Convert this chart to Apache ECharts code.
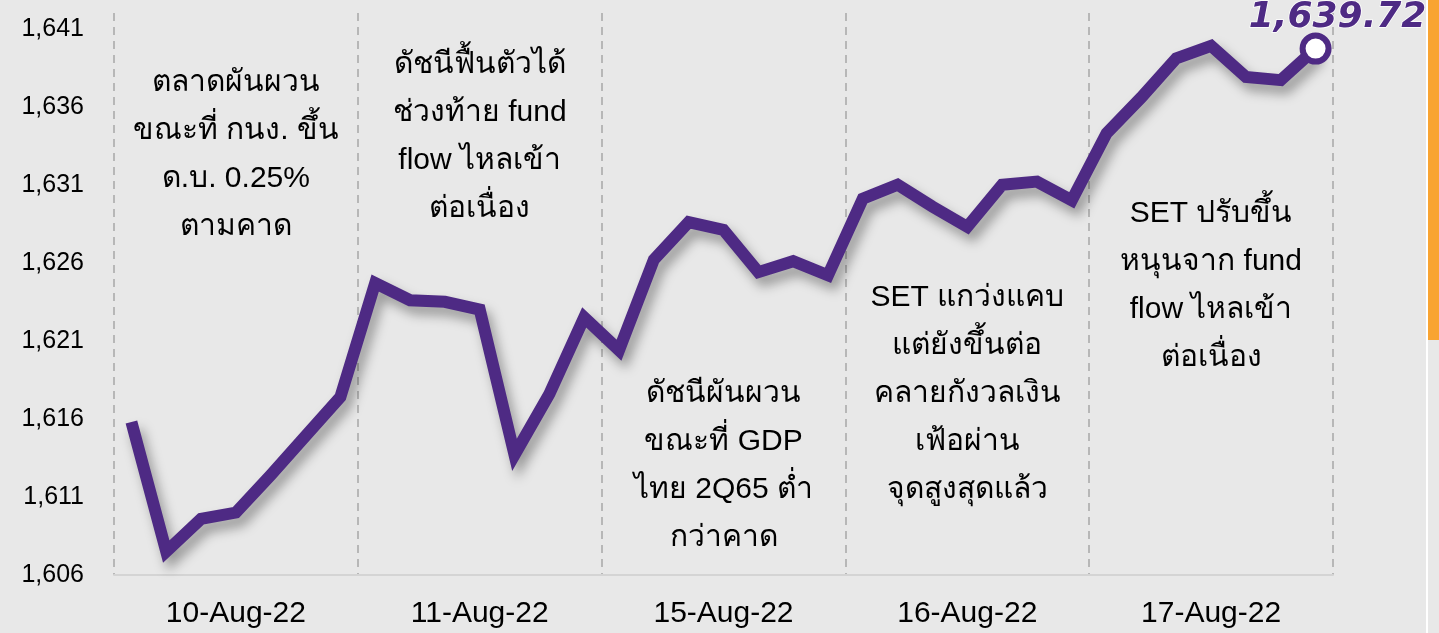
<!DOCTYPE html>
<html>
<head>
<meta charset="utf-8">
<script src="https://cdn.jsdelivr.net/npm/echarts@6/dist/echarts.min.js"></script>
<style>
  html, body { margin: 0; padding: 0; background: #e8e8e8; }
  #chart { width: 1439px; height: 633px; }
</style>
</head>
<body>
<div id="chart"></div>
<script>
  // วันซื้อขาย 5 วัน วันละ 7 จุด
  var days = ['10-Aug-22', '11-Aug-22', '15-Aug-22', '16-Aug-22', '17-Aug-22'];
  var day1 = [1615.8, 1607.5, 1609.6, 1610.0, 1612.4, 1614.9, 1617.4];
  var day2 = [1624.7, 1623.6, 1623.5, 1623.0, 1613.7, 1617.6, 1622.5];
  var day3 = [1620.4, 1626.2, 1628.6, 1628.1, 1625.4, 1626.1, 1625.2];
  var day4 = [1630.1, 1631.0, 1629.6, 1628.3, 1631.0, 1631.2, 1630.0];
  var day5 = [1634.3, 1636.6, 1639.1, 1639.9, 1637.9, 1637.7, 1639.72];

  var notes = [
    ['ตลาดผันผวน', 'ขณะที่ กนง. ขึ้น', 'ด.บ. 0.25%', 'ตามคาด'],
    ['ดัชนีฟื้นตัวได้', 'ช่วงท้าย fund', 'flow ไหลเข้า', 'ต่อเนื่อง'],
    ['ดัชนีผันผวน', 'ขณะที่ GDP', 'ไทย 2Q65 ต่ำ', 'กว่าคาด'],
    ['SET แกว่งแคบ', 'แต่ยังขึ้นต่อ', 'คลายกังวลเงิน', 'เฟ้อผ่าน', 'จุดสูงสุดแล้ว'],
    ['SET ปรับขึ้น', 'หนุนจาก fund', 'flow ไหลเข้า', 'ต่อเนื่อง']
  ];
  // ระดับดัชนีที่ใช้วางกล่องข้อความแต่ละวัน
  var noteLevels = [1632.9, 1634.1, 1613.0, 1617.6, 1624.5];

  var perDay = 7;
  var purple = '#4e2a84';
  var font = '"Liberation Sans", Arial, sans-serif';

  var values = [].concat(day1, day2, day3, day4, day5);
  var categories = [];
  days.forEach(function (d) {
    for (var i = 0; i < perDay; i++) categories.push(d + '|' + i);
  });

  var notePoints = notes.map(function (lines, k) {
    return {
      coord: [categories[k * perDay + 3], noteLevels[k]],
      label: { formatter: lines.join('\n') }
    };
  });

  var last = values.length - 1;

  var chart = echarts.init(document.getElementById('chart'));
  chart.setOption({
    backgroundColor: '#e8e8e8',
    animation: false,
    grid: { left: 114, right: 106, top: 13, bottom: 58 },
    xAxis: {
      type: 'category',
      data: categories,
      boundaryGap: true,
      axisLine: { lineStyle: { color: '#d4d4d4', width: 2 } },
      axisTick: { show: false },
      axisLabel: {
        interval: function (i) { return i % perDay === 3; },
        formatter: function (v) { return v.split('|')[0]; },
        color: '#000',
        fontSize: 30,
        fontFamily: font,
        margin: 24
      },
      splitLine: {
        show: true,
        interval: function (i) { return i % perDay === 0; },
        lineStyle: { color: '#a6a6a6', type: [8, 6], width: 1.5 }
      }
    },
    yAxis: {
      type: 'value',
      min: 1606,
      max: 1642,
      interval: 5,
      axisLine: { show: false },
      axisTick: { show: false },
      splitLine: { show: false },
      axisLabel: {
        showMaxLabel: false,
        color: '#000',
        fontSize: 25,
        fontFamily: font,
        margin: 30,
        formatter: function (v) { return v.toLocaleString('en-US'); }
      }
    },
    series: [
      {
        type: 'line',
        data: values,
        symbol: 'none',
        lineStyle: {
          color: purple,
          width: 12,
          join: 'miter',
          shadowColor: 'rgba(0,0,0,0.35)',
          shadowBlur: 12,
          shadowOffsetX: 5,
          shadowOffsetY: 8
        },
        markPoint: {
          symbol: 'circle',
          symbolSize: 0,
          label: {
            show: true,
            position: 'inside',
            color: '#000',
            fontSize: 30,
            lineHeight: 48,
            fontFamily: font,
            align: 'center'
          },
          data: notePoints
        }
      },
      {
        type: 'scatter',
        data: [[last, values[last]]],
        symbol: 'circle',
        symbolSize: 26,
        itemStyle: { color: '#fff', borderColor: purple, borderWidth: 6, opacity: 1 },
        label: {
          show: true,
          position: 'top',
          offset: [22, 8],
          formatter: function (p) {
            return p.value[1].toLocaleString('en-US', { minimumFractionDigits: 2 });
          },
          color: purple,
          fontSize: 36,
          fontWeight: 'bold',
          fontStyle: 'italic',
          fontFamily: '"DejaVu Sans", sans-serif',
          textBorderColor: '#fff',
          textBorderWidth: 1.5
        },
        z: 5
      }
    ],
    graphic: [
      { type: 'rect', right: 0, top: 0, shape: { width: 11, height: 340 }, style: { fill: '#f9a431' } },
      { type: 'rect', right: 11, top: 0, shape: { width: 2, height: 633 }, style: { fill: '#ffffff' } }
    ]
  });
</script>
</body>
</html>
